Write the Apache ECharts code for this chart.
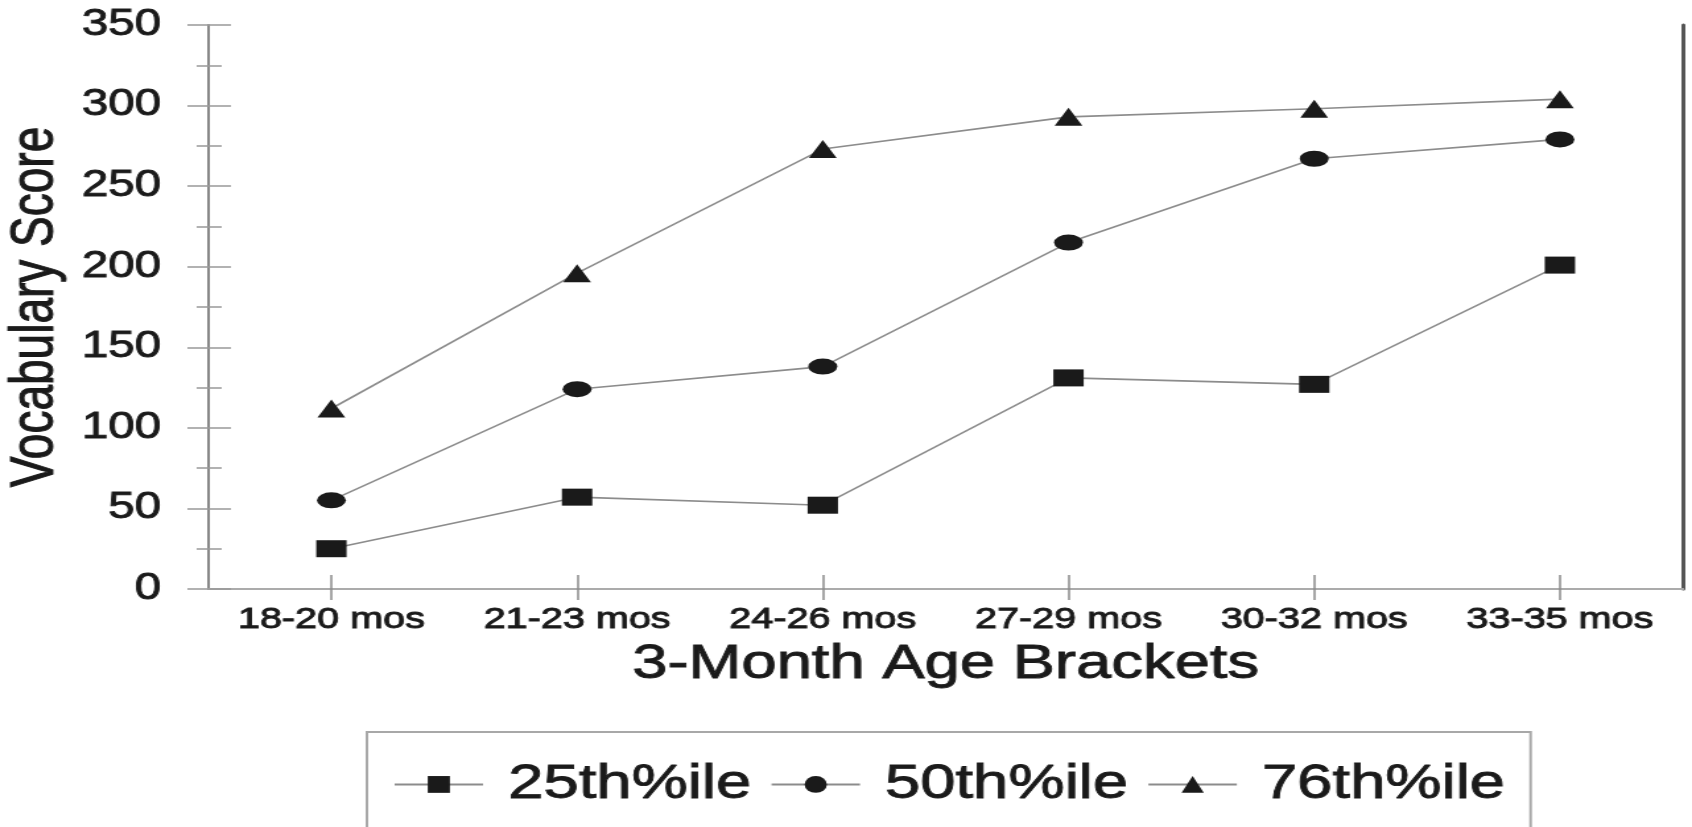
<!DOCTYPE html>
<html>
<head>
<meta charset="utf-8">
<script src="https://cdn.jsdelivr.net/npm/echarts@6/dist/echarts.min.js"></script>
<style>
html, body { margin: 0; padding: 0; background: #fff; overflow: hidden; }
#c { width: 1282px; height: 827px; transform: scaleX(1.31981); transform-origin: 0 0; }
</style>
</head>
<body>
<div id="c"></div>
<script>
const categories = ['18-20 mos', '21-23 mos', '24-26 mos', '27-29 mos', '30-32 mos', '33-35 mos'];
const p25 = [25, 57, 52, 131, 127, 201];
const p50 = [55, 124, 138, 215, 267, 279];
const p76 = [112, 196, 273, 293, 298, 304];
const seriesNames = ['25th%ile', '50th%ile', '76th%ile'];
const yMin = 0, yMax = 350, yStep = 50;

const FONT = 'Liberation Sans, Arial, Helvetica, sans-serif';
const TXT = '#1a1a1a';
const LINE = '#8c8c8c';
const MARK = '#1a1a1a';
const heavy = { textBorderColor: TXT, textBorderWidth: 0.9 };

const chart = echarts.init(document.getElementById('c'), null, { renderer: 'canvas' });

const yBase = { type: 'value', min: yMin, max: yMax, interval: yStep, splitLine: { show: false } };

const option = {
  animation: false,
  backgroundColor: '#fff',
  textStyle: { fontFamily: FONT },
  grid: { left: 158, right: 7, top: 25, bottom: 238, containLabel: false, outerBoundsMode: 'none' },
  xAxis: [
    {
      type: 'category', data: categories, boundaryGap: true, position: 'bottom',
      axisLine: { show: true, lineStyle: { color: '#8a8a8a', width: 2 } },
      axisTick: { show: true, alignWithLabel: true, length: 11, lineStyle: { color: '#8a8a8a', width: 1.5 } },
      axisLabel: Object.assign({ fontSize: 30, color: TXT, margin: 16, fontFamily: FONT, interval: 0 }, heavy),
      name: '3-Month Age Brackets', nameLocation: 'middle', nameGap: 47,
      nameTextStyle: Object.assign({ fontSize: 48, color: TXT, fontFamily: FONT }, heavy)
    },
    {
      type: 'category', data: categories, boundaryGap: true, position: 'bottom',
      axisLine: { show: false },
      axisTick: { show: true, inside: true, alignWithLabel: true, length: 14, lineStyle: { color: '#8a8a8a', width: 1.5 } },
      axisLabel: { show: false }
    },
    {
      type: 'category', data: categories, boundaryGap: true, position: 'top',
      axisLine: { show: true, lineStyle: { color: '#ababab', width: 2 } },
      axisTick: { show: false }, axisLabel: { show: false }
    }
  ],
  yAxis: [
    Object.assign({}, yBase, {
      position: 'left',
      axisLine: { show: true, lineStyle: { color: '#888', width: 2 } },
      axisTick: { show: true, length: 16, lineStyle: { color: '#999', width: 1.5 } },
      minorTick: { show: true, splitNumber: 2, length: 9, lineStyle: { color: '#999', width: 1.5 } },
      axisLabel: Object.assign({ fontSize: 36, color: TXT, margin: 36, fontFamily: FONT }, heavy),
      name: 'Vocabulary Score', nameLocation: 'middle', nameGap: 91,
      nameTextStyle: Object.assign({ fontSize: 46, color: TXT, fontFamily: FONT }, heavy)
    }),
    Object.assign({}, yBase, {
      position: 'left',
      axisLine: { show: false },
      axisTick: { show: true, inside: true, length: 17, lineStyle: { color: '#999', width: 1.5 } },
      minorTick: { show: true, splitNumber: 2, length: 10, lineStyle: { color: '#999', width: 1.5 } },
      axisLabel: { show: false }
    }),
    Object.assign({}, yBase, {
      position: 'right',
      axisLine: { show: true, lineStyle: { color: '#555', width: 3 } },
      axisTick: { show: false }, axisLabel: { show: false }
    })
  ],
  legend: {
    data: seriesNames,
    orient: 'horizontal',
    left: 278, top: 732,
    itemWidth: 67, itemHeight: 21, itemGap: 14,
    padding: [28, 19, 90, 20],
    borderColor: '#a8a8a8', borderWidth: 2,
    textStyle: Object.assign({ fontSize: 48, color: TXT, fontFamily: FONT, padding: [0, 0, 0, 14] }, heavy)
  },
  series: [
    {
      name: seriesNames[0], type: 'line', data: p25, xAxisIndex: 0, yAxisIndex: 0,
      symbol: 'rect', symbolSize: [23, 17],
      lineStyle: { color: LINE, width: 1.6 }, itemStyle: { color: MARK },
      emphasis: { disabled: true }
    },
    {
      name: seriesNames[1], type: 'line', data: p50, xAxisIndex: 0, yAxisIndex: 0,
      symbol: 'circle', symbolSize: [22, 16],
      lineStyle: { color: LINE, width: 1.6 }, itemStyle: { color: MARK },
      emphasis: { disabled: true }
    },
    {
      name: seriesNames[2], type: 'line', data: p76, xAxisIndex: 0, yAxisIndex: 0,
      symbol: 'triangle', symbolSize: [21, 18],
      lineStyle: { color: LINE, width: 1.6 }, itemStyle: { color: MARK },
      emphasis: { disabled: true }
    }
  ]
};
chart.setOption(option);
</script>
</body>
</html>
